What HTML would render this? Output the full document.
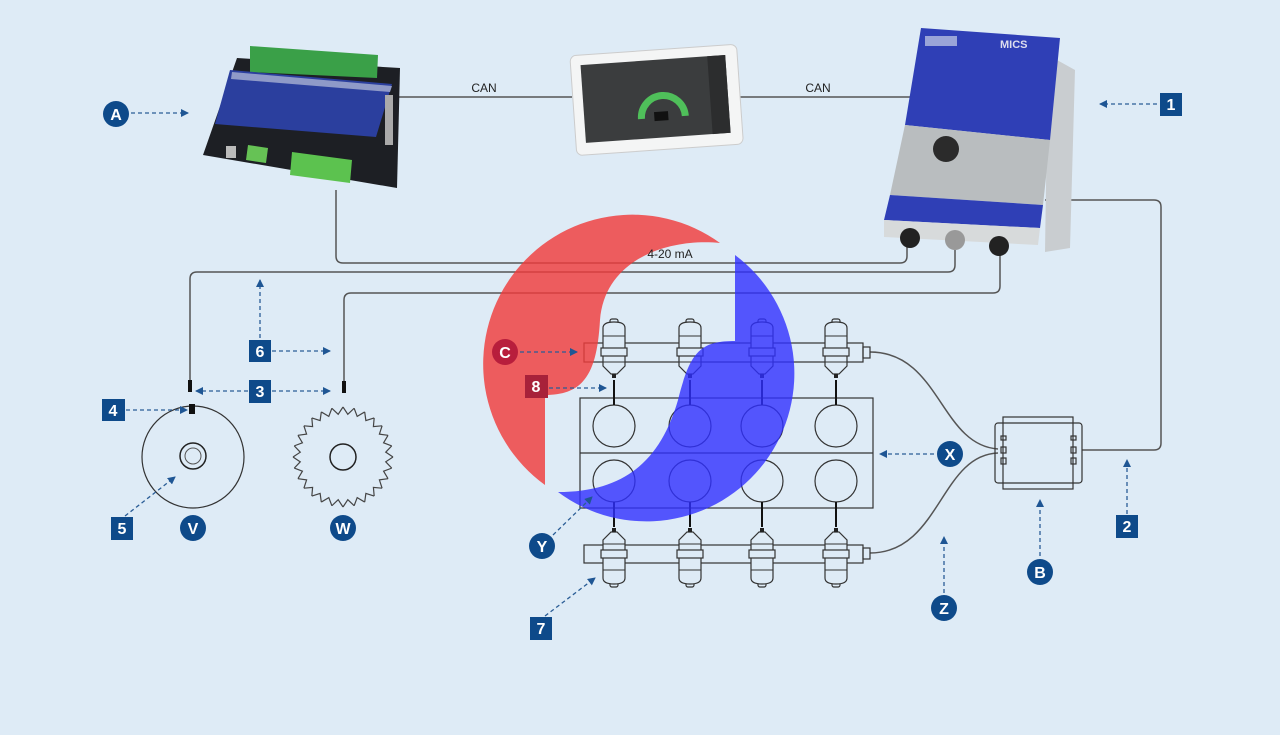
<!DOCTYPE html>
<html><head><meta charset="utf-8"><style>
html,body{margin:0;padding:0;background:#deebf6;}
svg{display:block;}
text{font-family:"Liberation Sans",sans-serif;}
</style></head><body>
<svg width="1280" height="735" viewBox="0 0 1280 735" xmlns="http://www.w3.org/2000/svg" xmlns:xlink="http://www.w3.org/1999/xlink">
<defs>
<marker id="ah" markerWidth="8" markerHeight="8" refX="7" refY="4" orient="auto" markerUnits="userSpaceOnUse">
<path d="M0,0 L8,4 L0,8 Z" fill="#1f5694"/></marker>
<g id="inj">
<rect x="-4" y="-33" width="8" height="9" rx="2" fill="#deebf6" stroke="#333" stroke-width="1.2"/>
<path d="M-11,-24 Q-11,-30 0,-30 Q11,-30 11,-24 L11,14 L3,22 L-3,22 L-11,14 Z" fill="#deebf6" stroke="#333" stroke-width="1.2"/>
<rect x="-13" y="-4" width="26" height="8" fill="#deebf6" stroke="#333" stroke-width="1.2"/>
<line x1="-11" y1="-16" x2="11" y2="-16" stroke="#333" stroke-width="1"/>
<line x1="-11" y1="10" x2="11" y2="10" stroke="#333" stroke-width="1"/>
<rect x="-2" y="22" width="4" height="4" fill="#222"/>
</g>
<polyline id="tooth" points="50,0 42.73,4.81 48.75,11.13" fill="none" stroke="#444" stroke-width="1.2"/>
</defs>

<!-- wires -->
<g fill="none" stroke="#555" stroke-width="1.5">
<line x1="395" y1="97" x2="572" y2="97"/>
<line x1="740" y1="97" x2="915" y2="97"/>
<path d="M336,190 L336,256 Q336,263 343,263 L900,263 Q907,263 907,256 L907,245"/>
<path d="M190,382 L190,279 Q190,272 197,272 L948,272 Q955,272 955,265 L955,250"/>
<path d="M344,382 L344,300 Q344,293 351,293 L993,293 Q1000,293 1000,286 L1000,255"/>
<path d="M1045,200 L1154,200 Q1161,200 1161,207 L1161,443 Q1161,450 1154,450 L1082,450"/>
<path d="M870,352 C940,352 940,445 998,449"/>
<path d="M870,553 C940,553 940,455 998,453"/>
</g>
<text x="484" y="92" font-size="12" fill="#222" text-anchor="middle">CAN</text>
<text x="818" y="92" font-size="12" fill="#222" text-anchor="middle">CAN</text>

<!-- controller -->
<polygon points="237,58 400,68 397,188 203,155" fill="#1d1f24"/>
<polygon points="250,46 378,55 377,78 250,72" fill="#3aa048"/>
<polygon points="230,70 392,84 376,137 215,124" fill="#2b3f9e"/>
<polygon points="232,72 392,86 390,92 231,79" fill="#8f9ac8"/>
<polygon points="292,152 352,160 350,183 290,175" fill="#5cc24f"/>
<polygon points="248,145 268,148 266,163 246,160" fill="#66c255"/>
<rect x="226" y="146" width="10" height="12" fill="#bbb"/>
<rect x="385" y="95" width="8" height="50" fill="#aaa"/>

<!-- tablet -->
<g transform="rotate(-4 655 98)">
<rect x="573" y="50" width="167" height="100" rx="6" fill="#f4f5f5" stroke="#ccc"/>
<rect x="583" y="60" width="145" height="78" fill="#3b3d3e"/>
<rect x="710" y="60" width="18" height="78" fill="#2c2d2e"/>
<path d="M640,118 A22,22 0 0 1 684,118" fill="none" stroke="#4fbf5a" stroke-width="7"/>
<rect x="653" y="112" width="14" height="9" fill="#111"/>
</g>

<!-- MICS -->
<polygon points="1048,55 1075,70 1070,248 1045,252" fill="#c9cdd0"/>
<polygon points="921,28 1060,38 1050,140 905,125" fill="#2f3fb6"/>
<polygon points="905,125 1050,140 1043,205 890,195" fill="#b9bdbf"/>
<polygon points="890,195 1043,205 1040,228 884,220" fill="#2f3fb6"/>
<polygon points="884,220 1040,228 1038,245 884,237" fill="#d7dadb"/>
<circle cx="946" cy="149" r="13" fill="#2b2b2b"/>
<rect x="925" y="36" width="32" height="10" fill="#9aa4d8"/>
<text x="1000" y="48" font-size="11" font-weight="bold" fill="#dde">MICS</text>
<circle cx="910" cy="238" r="10" fill="#222"/>
<circle cx="955" cy="240" r="10" fill="#999"/>
<circle cx="999" cy="246" r="10" fill="#222"/>

<!-- sensors -->
<circle cx="193" cy="457" r="51" fill="none" stroke="#333" stroke-width="1.2"/>
<circle cx="193" cy="456" r="13" fill="none" stroke="#222" stroke-width="1.5"/>
<circle cx="193" cy="456" r="8" fill="none" stroke="#555" stroke-width="1"/>
<rect x="188" y="380" width="4" height="12" fill="#111"/>
<rect x="189" y="404" width="6" height="10" fill="#111"/>
<rect x="342" y="381" width="4" height="12" fill="#111"/>
<g transform="translate(343 457)">
<use href="#tooth" xlink:href="#tooth" transform="rotate(0)"/>
<use href="#tooth" xlink:href="#tooth" transform="rotate(12.857)"/>
<use href="#tooth" xlink:href="#tooth" transform="rotate(25.714)"/>
<use href="#tooth" xlink:href="#tooth" transform="rotate(38.571)"/>
<use href="#tooth" xlink:href="#tooth" transform="rotate(51.429)"/>
<use href="#tooth" xlink:href="#tooth" transform="rotate(64.286)"/>
<use href="#tooth" xlink:href="#tooth" transform="rotate(77.143)"/>
<use href="#tooth" xlink:href="#tooth" transform="rotate(90)"/>
<use href="#tooth" xlink:href="#tooth" transform="rotate(102.857)"/>
<use href="#tooth" xlink:href="#tooth" transform="rotate(115.714)"/>
<use href="#tooth" xlink:href="#tooth" transform="rotate(128.571)"/>
<use href="#tooth" xlink:href="#tooth" transform="rotate(141.429)"/>
<use href="#tooth" xlink:href="#tooth" transform="rotate(154.286)"/>
<use href="#tooth" xlink:href="#tooth" transform="rotate(167.143)"/>
<use href="#tooth" xlink:href="#tooth" transform="rotate(180)"/>
<use href="#tooth" xlink:href="#tooth" transform="rotate(192.857)"/>
<use href="#tooth" xlink:href="#tooth" transform="rotate(205.714)"/>
<use href="#tooth" xlink:href="#tooth" transform="rotate(218.571)"/>
<use href="#tooth" xlink:href="#tooth" transform="rotate(231.429)"/>
<use href="#tooth" xlink:href="#tooth" transform="rotate(244.286)"/>
<use href="#tooth" xlink:href="#tooth" transform="rotate(257.143)"/>
<use href="#tooth" xlink:href="#tooth" transform="rotate(270)"/>
<use href="#tooth" xlink:href="#tooth" transform="rotate(282.857)"/>
<use href="#tooth" xlink:href="#tooth" transform="rotate(295.714)"/>
<use href="#tooth" xlink:href="#tooth" transform="rotate(308.571)"/>
<use href="#tooth" xlink:href="#tooth" transform="rotate(321.429)"/>
<use href="#tooth" xlink:href="#tooth" transform="rotate(334.286)"/>
<use href="#tooth" xlink:href="#tooth" transform="rotate(347.143)"/>
</g>
<circle cx="343" cy="457" r="13" fill="none" stroke="#222" stroke-width="1.5"/>

<!-- engine -->
<g fill="none" stroke="#333" stroke-width="1.2">
<rect x="580" y="398" width="293" height="110"/>
<line x1="580" y1="453" x2="873" y2="453"/>
<circle cx="614" cy="426" r="21"/><circle cx="690" cy="426" r="21"/><circle cx="762" cy="426" r="21"/><circle cx="836" cy="426" r="21"/>
<circle cx="614" cy="481" r="21"/><circle cx="690" cy="481" r="21"/><circle cx="762" cy="481" r="21"/><circle cx="836" cy="481" r="21"/>
<rect x="584" y="343" width="279" height="19"/>
<rect x="863" y="347" width="7" height="11"/>
<rect x="584" y="545" width="279" height="18"/>
<rect x="863" y="548" width="7" height="11"/>
</g>
<g stroke="#111" stroke-width="2">
<line x1="614" y1="380" x2="614" y2="405"/><line x1="690" y1="380" x2="690" y2="405"/><line x1="762" y1="380" x2="762" y2="405"/><line x1="836" y1="380" x2="836" y2="405"/>
<line x1="614" y1="502" x2="614" y2="527"/><line x1="690" y1="502" x2="690" y2="527"/><line x1="762" y1="502" x2="762" y2="527"/><line x1="836" y1="502" x2="836" y2="527"/>
</g>
<use href="#inj" xlink:href="#inj" x="614" y="352"/><use href="#inj" xlink:href="#inj" x="690" y="352"/><use href="#inj" xlink:href="#inj" x="762" y="352"/><use href="#inj" xlink:href="#inj" x="836" y="352"/>
<g transform="translate(0,1106) scale(1,-1)">
<use href="#inj" xlink:href="#inj" x="614" y="552"/><use href="#inj" xlink:href="#inj" x="690" y="552"/><use href="#inj" xlink:href="#inj" x="762" y="552"/><use href="#inj" xlink:href="#inj" x="836" y="552"/>
</g>

<!-- box B -->
<g fill="none" stroke="#333" stroke-width="1.2">
<rect x="995" y="423" width="87" height="60" rx="3"/>
<rect x="1003" y="417" width="70" height="72"/>
<rect x="1001" y="436" width="5" height="4"/><rect x="1001" y="447" width="5" height="6"/><rect x="1001" y="458" width="5" height="6"/>
<rect x="1071" y="436" width="5" height="4"/><rect x="1071" y="447" width="5" height="6"/><rect x="1071" y="458" width="5" height="6"/>
</g>

<!-- watermark -->
<path d="M545,485 A138,138 0 0 1 720,243 C670,238 605,258 600,320 C597,372 585,395 545,395 Z" fill="#f03c3c" fill-opacity="0.82"/>
<path d="M735,255 A145,145 0 0 1 558,492 C630,492 662,455 678,400 C690,352 700,341 735,341 Z" fill="#3030ff" fill-opacity="0.8"/>
<text x="670" y="258" font-size="12" fill="#222" text-anchor="middle">4-20 mA</text>

<!-- arrows -->
<g stroke="#2a5d96" stroke-width="1.3" stroke-dasharray="4,3" fill="none" marker-end="url(#ah)">
<line x1="131" y1="113" x2="188" y2="113"/>
<line x1="1157" y1="104" x2="1100" y2="104"/>
<line x1="260" y1="338" x2="260" y2="280"/>
<line x1="272" y1="351" x2="330" y2="351"/>
<line x1="272" y1="391" x2="330" y2="391"/>
<line x1="248" y1="391" x2="196" y2="391"/>
<line x1="126" y1="410" x2="187" y2="410"/>
<line x1="125" y1="516" x2="175" y2="477"/>
<line x1="520" y1="352" x2="577" y2="352"/>
<line x1="549" y1="388" x2="606" y2="388"/>
<line x1="934" y1="454" x2="880" y2="454"/>
<line x1="553" y1="535" x2="592" y2="497"/>
<line x1="545" y1="616" x2="595" y2="578"/>
<line x1="944" y1="593" x2="944" y2="537"/>
<line x1="1040" y1="556" x2="1040" y2="500"/>
<line x1="1127" y1="514" x2="1127" y2="460"/>
</g>

<!-- labels -->
<g fill="#0e4a8a">
<circle cx="116" cy="114" r="13"/><circle cx="505" cy="352" r="13" fill="#b81e3c"/>
<circle cx="950" cy="454" r="13"/><circle cx="542" cy="546" r="13"/>
<circle cx="944" cy="608" r="13"/><circle cx="1040" cy="572" r="13"/>
<circle cx="193" cy="528" r="13"/><circle cx="343" cy="528" r="13"/>
<rect x="1160" y="93" width="22" height="23"/>
<rect x="249" y="340" width="22" height="22"/><rect x="249" y="380" width="22" height="23"/>
<rect x="102" y="399" width="23" height="22"/><rect x="111" y="517" width="22" height="23"/>
<rect x="525" y="375" width="23" height="23" fill="#a8213a"/>
<rect x="530" y="617" width="22" height="23"/><rect x="1116" y="515" width="22" height="23"/>
</g>
<g fill="#fff" font-size="16" font-weight="bold" text-anchor="middle">
<text x="116" y="120">A</text><text x="505" y="358">C</text><text x="950" y="460">X</text>
<text x="542" y="552">Y</text><text x="944" y="614">Z</text><text x="1040" y="578">B</text>
<text x="193" y="534">V</text><text x="343" y="534">W</text>
<text x="1171" y="110">1</text><text x="260" y="357">6</text><text x="260" y="397">3</text>
<text x="113" y="416">4</text><text x="122" y="534">5</text><text x="536" y="392">8</text>
<text x="541" y="634">7</text><text x="1127" y="532">2</text>
</g>
</svg>
</body></html>
